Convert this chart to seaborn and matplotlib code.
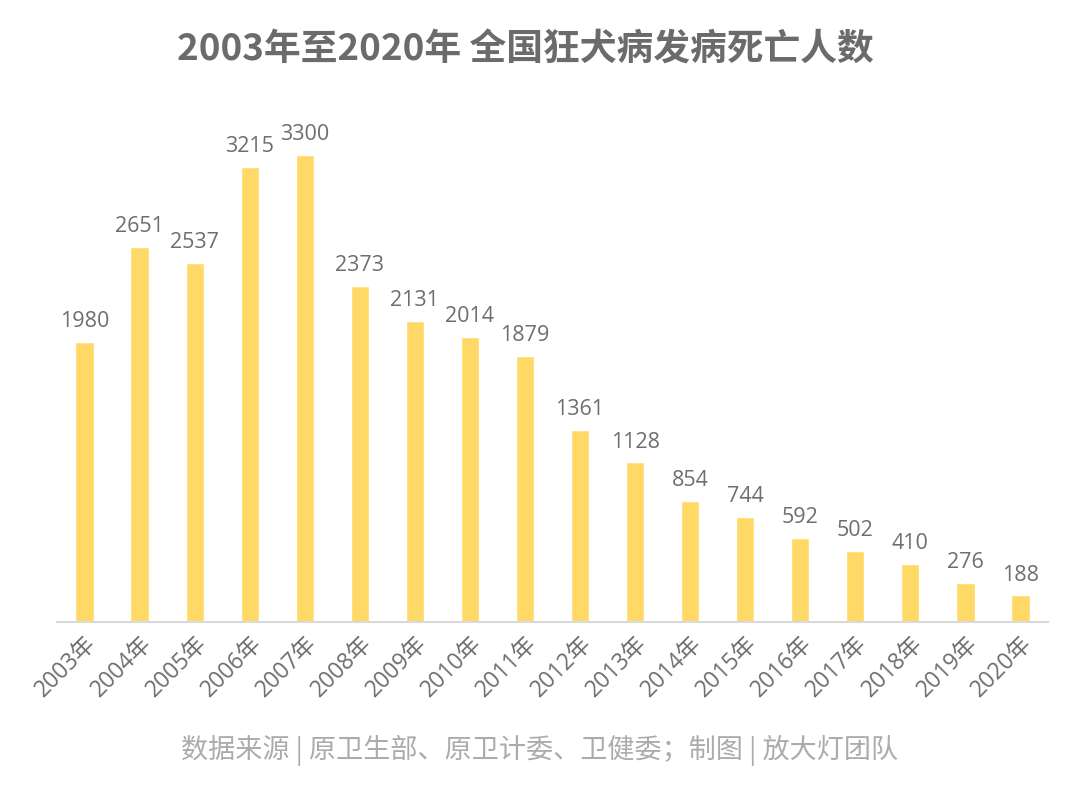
import matplotlib
matplotlib.use("Agg")
import matplotlib.pyplot as plt
import seaborn as sns
import pandas as pd

years = ["2003年", "2004年", "2005年", "2006年", "2007年", "2008年", "2009年", "2010年", "2011年",
         "2012年", "2013年", "2014年", "2015年", "2016年", "2017年", "2018年", "2019年", "2020年"]
deaths = [1980, 2651, 2537, 3215, 3300, 2373, 2131, 2014, 1879,
          1361, 1128, 854, 744, 592, 502, 410, 276, 188]
title = "2003年至2020年 全国狂犬病发病死亡人数"
source = "数据来源 | 原卫生部、原卫计委、卫健委；制图 | 放大灯团队"

sns.set_theme(style="white")
plt.rcParams['font.family'] = ['Noto Sans CJK SC', 'DejaVu Sans']
num_family = ['Open Sans', 'Noto Sans CJK SC']

df = pd.DataFrame({"year": years, "deaths": deaths})

fig = plt.figure(figsize=(10.8, 7.88), dpi=100)
ax = fig.add_axes([57/1080, 166/788, (1048-57)/1080, (622-127)/788])
sns.barplot(data=df, x="year", y="deaths", color="#FFD966", width=0.33, saturation=1, ax=ax)
ax.set_xlim(-0.5, len(years) - 0.5)
ax.set_ylim(0, 3500)
for i, v in enumerate(deaths):
    ax.text(i, v + 70, str(v), ha="center", va="bottom", fontsize=15.5, color="#6E6E6E",
            family=num_family)
ax.set_xlabel("")
ax.set_ylabel("")
ax.set_yticks([])
for s in ["top", "right", "left"]:
    ax.spines[s].set_visible(False)
ax.spines["bottom"].set_color("#D9D9D9")
ax.spines["bottom"].set_linewidth(1.5)
ax.tick_params(axis="x", length=0, pad=7)
for lab in ax.get_xticklabels():
    lab.set_rotation(45)
    lab.set_ha("right")
    lab.set_rotation_mode("anchor")
    lab.set_fontsize(16.5)
    lab.set_family(num_family)
    lab.set_color("#6E6E6E")
fig.text(525/1080, 1 - 50/788, title, ha="center", va="center", fontsize=26.5, fontweight="bold",
         color="#6B6B6B")
fig.text(0.5, 1 - 750/788, source, ha="center", va="center", fontsize=19.5, color="#ABABAB")
fig.savefig("out.png", dpi=100)
